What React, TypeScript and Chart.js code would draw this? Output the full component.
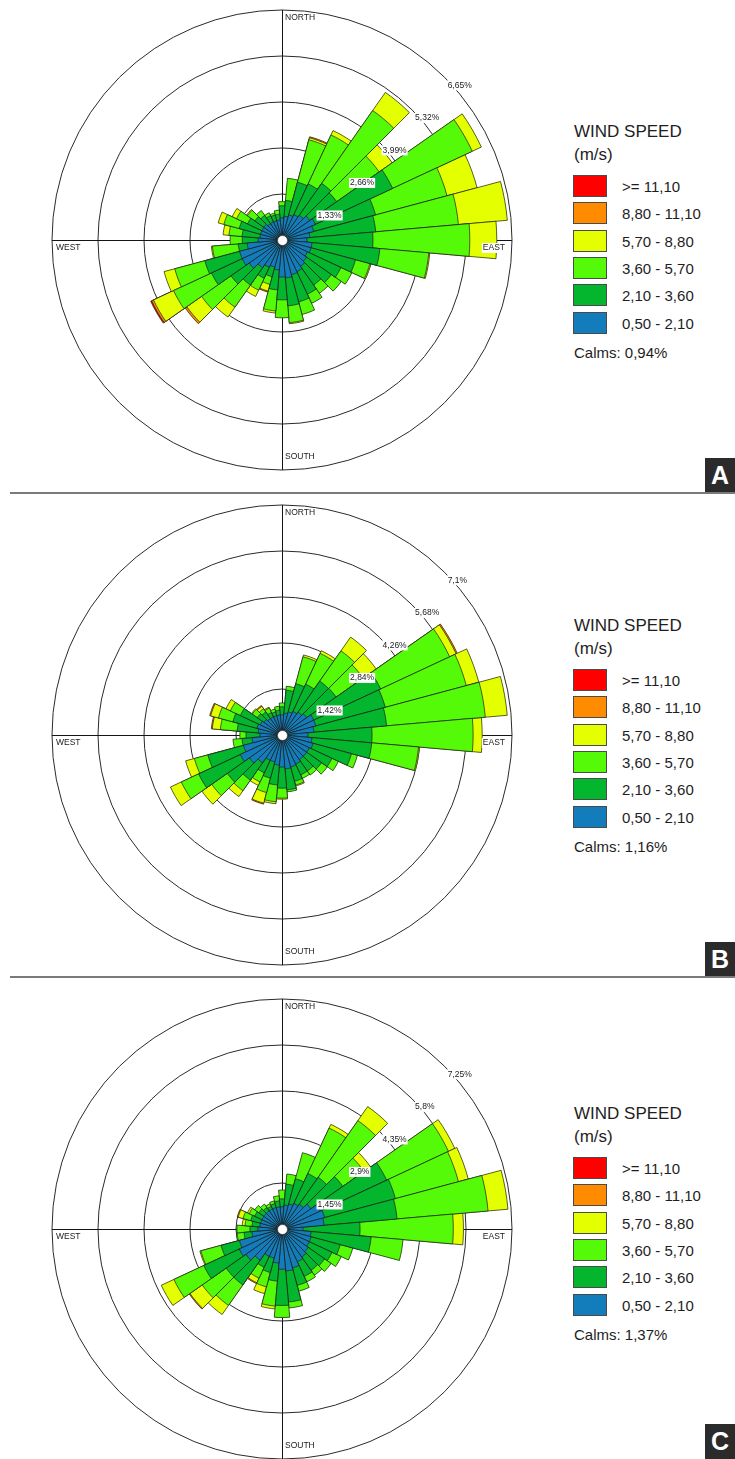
import React, { useEffect, useRef } from 'react';
import { Chart, registerables } from 'chart.js';

Chart.register(...registerables);

// ---------- categories ----------
const DIRECTIONS = [0, 10, 20, 30, 40, 50, 60, 70, 80, 90, 100, 110, 120, 130, 140, 150, 160, 170,
  180, 190, 200, 210, 220, 230, 240, 250, 260, 270, 280, 290, 300, 310, 320, 330, 340, 350];

// speed classes, low -> high
const SPEED_CLASSES = ['0,50 - 2,10', '2,10 - 3,60', '3,60 - 5,70', '5,70 - 8,80', '8,80 - 11,10', '>= 11,10'];
const CLASS_COLORS = ['#137dbb', '#04b52e', '#55fa08', '#e3ff00', '#ff8c00', '#ff0000'];

// ---------- Rose A (frequency %, per direction) ----------
const A_050_210 = [0.64,0.69,0.75,0.81,0.87,0.98,1.07,0.95,0.81,0.72,0.87,0.87,0.81,0.87,0.93,1.01,1.04,1.10,1.07,0.87,0.81,0.87,0.98,1.16,1.27,1.27,1.01,0.69,0.64,0.64,0.64,0.64,0.58,0.58,0.58,0.58];
const A_210_360 = [0.35,0.46,0.98,0.98,1.13,0.95,2.46,1.85,1.91,1.91,1.97,1.33,1.07,0.87,0.66,0.72,0.81,0.81,0.66,0.58,0.29,0.35,0.61,0.64,0.98,1.04,0.26,0.46,0.52,0.64,0.46,0.32,0.29,0.20,0.17,0.17];
const A_360_570 = [0.12,0.64,1.27,1.56,2.57,1.50,2.54,2.14,2.40,2.80,1.42,0.43,0.35,0.35,0.29,0.29,0.38,0.49,0.52,0.61,0.23,0.38,0.78,1.04,1.21,0.90,0.75,0.35,0.38,0.46,0.35,0.26,0.17,0.09,0.06,0.12];
const A_570_880 = [0,0,0.06,0.14,0.64,0.46,0.29,0.90,1.42,0.78,0.03,0.03,0,0,0,0,0,0.03,0,0.06,0.20,0.20,0.35,0.52,0.64,0.32,0.03,0,0.17,0.17,0.14,0.03,0,0,0,0];
const A_880_1110 = [0,0,0.03,0,0,0,0,0,0,0,0,0,0,0,0,0,0,0,0,0,0.03,0,0,0.06,0.06,0,0,0,0,0,0,0,0,0,0,0];
const A_1110 = [0,0,0,0,0,0,0,0,0,0,0,0,0,0,0,0,0,0,0,0,0,0,0,0,0.03,0,0,0,0,0,0,0,0,0,0,0];
const RINGS_A = [1.33, 2.66, 3.99, 5.32, 6.65];
const RING_LABELS_A = ['1,33%', '2,66%', '3,99%', '5,32%', '6,65%'];
const CALMS_A = 'Calms: 0,94%';

// ---------- Rose B ----------
const B_050_210 = [0.62,0.68,0.74,0.80,0.86,0.93,1.08,1.08,0.99,0.80,0.93,0.99,0.93,0.93,0.93,0.99,1.02,1.05,0.99,0.93,0.86,0.86,1.05,1.23,1.42,1.23,0.93,0.68,0.74,0.80,0.74,0.68,0.62,0.62,0.62,0.62];
const B_210_360 = [0.25,0.71,0.90,0.93,1.17,1.11,2.28,2.22,2.25,1.98,1.85,1.23,0.77,0.56,0.43,0.37,0.46,0.65,0.65,0.62,0.52,0.43,0.65,0.83,1.42,1.14,0.31,0.43,0.65,0.77,0.68,0.25,0.25,0.15,0.12,0.15];
const B_360_570 = [0.12,0.12,0.86,1.05,1.14,1.02,2.35,2.59,3.06,3.12,1.45,0.19,0.22,0.22,0.15,0.12,0.12,0.06,0.31,0.52,0.46,0.31,0.40,0.59,0.59,0.43,0.28,0.19,0.52,0.46,0.34,0.19,0.12,0.15,0.09,0.12];
const B_570_880 = [0,0,0.06,0.09,0.52,0.49,0.22,0.40,0.68,0.28,0.03,0,0,0,0,0,0.03,0,0.03,0.06,0.34,0.12,0.22,0.37,0.37,0.28,0,0,0.25,0.25,0.15,0.03,0.09,0.03,0,0];
const B_880_1110 = [0,0,0,0,0,0,0.04,0,0,0,0,0,0,0,0,0,0,0,0,0,0.03,0,0,0,0,0,0,0,0.03,0.03,0,0,0.03,0,0,0];
const B_1110 = [0,0,0,0,0,0,0,0,0,0,0,0,0,0,0,0,0,0,0,0,0,0,0,0,0,0,0,0,0,0,0,0,0,0,0,0];
const RINGS_B = [1.42, 2.84, 4.26, 5.68, 7.1];
const RING_LABELS_B = ['1,42%', '2,84%', '4,26%', '5,68%', '7,1%'];
const CALMS_B = 'Calms: 1,16%';

// ---------- Rose C ----------
const C_050_210 = [0.70,0.76,0.82,0.89,0.95,1.11,1.33,1.39,1.33,0.66,0.92,0.95,0.95,1.01,1.08,1.14,1.27,1.33,1.27,1.08,0.95,0.95,1.20,1.39,1.49,1.39,0.95,0.76,0.70,0.70,0.70,0.70,0.70,0.70,0.70,0.70];
const C_210_360 = [0.25,0.66,0.82,1.04,1.04,1.23,2.31,2.31,2.31,1.80,1.90,0.95,0.79,0.63,0.51,0.51,0.57,0.98,1.14,0.57,0.47,0.38,0.95,0.76,1.23,0.60,0.25,0.25,0.25,0.32,0.25,0.19,0.13,0.09,0.13,0.19];
const C_360_570 = [0.28,0.32,0.85,1.58,2.18,0.82,2.15,2.06,2.88,2.94,1.01,0.41,0.32,0.25,0.19,0.19,0.19,0.19,0.38,0.79,0.47,0.38,0.79,0.92,1.04,0.66,0.22,0.41,0.22,0.25,0.19,0.16,0.13,0.09,0.09,0.16];
const C_570_880 = [0,0,0,0.13,0.54,0.25,0.22,0.32,0.63,0.32,0,0,0,0,0,0,0,0,0,0.09,0.22,0.16,0.35,0.47,0.44,0.03,0,0,0.09,0.16,0.06,0,0,0,0,0];
const C_880_1110 = [0,0,0,0,0,0,0,0,0,0,0,0,0,0,0,0,0,0,0,0,0,0.03,0,0.03,0,0,0,0,0,0.03,0,0,0,0,0,0];
const C_1110 = [0,0,0,0,0,0,0,0,0,0,0,0,0,0,0,0,0,0,0,0,0,0,0,0,0,0,0,0,0,0,0,0,0,0,0,0];
const RINGS_C = [1.45, 2.9, 4.35, 5.8, 7.25];
const RING_LABELS_C = ['1,45%', '2,9%', '4,35%', '5,8%', '7,25%'];
const CALMS_C = 'Calms: 1,37%';

const COMPASS = ['NORTH', 'EAST', 'SOUTH', 'WEST'];
const LEGEND_TITLE = ['WIND SPEED', '(m/s)'];

const FONT = '"Liberation Sans", Arial, Helvetica, sans-serif';

type RoseProps = { bands: number[][]; rings: number[]; ringLabels: string[]; cx: number; cy: number };

function Rose({ bands, rings, ringLabels, cx, cy }: RoseProps) {
  const ref = useRef<HTMLCanvasElement>(null);
  useEffect(() => {
    const canvas = ref.current as HTMLCanvasElement;
    const cumulative: number[][] = [];
    bands.forEach((band, k) => {
      cumulative.push(band.map((v, i) => v + (k > 0 ? cumulative[k - 1][i] : 0)));
    });
    const maxV = rings[rings.length - 1];

    const overlay = {
      id: 'roseOverlay',
      beforeDatasetsDraw(chart: any) {
        const s = chart.scales.r;
        const ctx = chart.ctx;
        const x = s.xCenter, y = s.yCenter, R = s.drawingArea;
        ctx.save();
        ctx.strokeStyle = '#141414';
        ctx.lineWidth = 1;
        ctx.beginPath();
        ctx.moveTo(x + 0.5, y - R);
        ctx.lineTo(x + 0.5, y + R);
        ctx.moveTo(x - R, y + 0.5);
        ctx.lineTo(x + R, y + 0.5);
        ctx.stroke();
        ctx.restore();
      },
      afterDatasetsDraw(chart: any) {
        const s = chart.scales.r;
        const ctx = chart.ctx;
        const x = s.xCenter, y = s.yCenter, R = s.drawingArea;
        ctx.save();
        // calm hole
        ctx.beginPath();
        ctx.arc(x + 0.5, y + 0.5, 5, 0, Math.PI * 2);
        ctx.fillStyle = '#ffffff';
        ctx.fill();
        ctx.lineWidth = 0.7;
        ctx.strokeStyle = '#333';
        ctx.stroke();

        ctx.font = `8.5px ${FONT}`;
        ctx.textBaseline = 'middle';
        const label = (t: string, lx: number, ly: number, align: 'left' | 'right') => {
          const w = ctx.measureText(t).width;
          const left = align === 'left' ? lx : lx - w;
          ctx.fillStyle = '#ffffff';
          ctx.fillRect(left - 1, ly - 5, w + 2, 10);
          ctx.fillStyle = '#1a1a1a';
          ctx.textAlign = 'left';
          ctx.fillText(t, left, ly);
        };
        // compass labels
        label(COMPASS[0], x + 3, y - R + 8, 'left');
        label(COMPASS[1], x + R - 7, y + 8, 'right');
        label(COMPASS[2], x + 3, y + R - 13, 'left');
        label(COMPASS[3], x - R + 4, y + 8, 'left');
        // ring labels along 45 deg
        rings.forEach((v, i) => {
          const r = s.getDistanceFromCenterForValue(v);
          const px = x + r * Math.SQRT1_2;
          const py = y - r * Math.SQRT1_2;
          label(ringLabels[i], px + 3, py + 8, 'left');
        });
        ctx.restore();
      },
    };

    const chart = new Chart(canvas, {
      type: 'polarArea',
      data: {
        labels: DIRECTIONS.map((d) => `${d}°`),
        datasets: cumulative.map((data, k) => ({
          label: SPEED_CLASSES[k],
          data,
          backgroundColor: (c: any) => {
            const i = c.dataIndex;
            let j = k;
            while (j > 0 && bands[j][i] === 0) j--;
            return CLASS_COLORS[j];
          },
          borderColor: '#1c1c1c',
          borderWidth: (c: any) => (bands[k][c.dataIndex] > 0 ? 0.7 : 0),
          borderAlign: 'center',
        })),
      } as any,
      options: {
        responsive: false,
        animation: false,
        events: [],
        layout: { padding: 6 },
        plugins: { legend: { display: false }, tooltip: { enabled: false } },
        scales: {
          r: {
            min: 0,
            max: maxV,
            startAngle: -5,
            ticks: { display: false },
            pointLabels: { display: false },
            angleLines: { display: false },
            grid: { circular: true, color: '#2a2a2a', lineWidth: 1 },
            afterBuildTicks: (sc: any) => {
              sc.ticks = [0, ...rings].map((v) => ({ value: v }));
            },
          },
        },
      } as any,
      plugins: [overlay],
    });
    const s = chart.scales.r as any;
    canvas.style.left = `${cx - s.xCenter}px`;
    canvas.style.top = `${cy - s.yCenter}px`;
    return () => chart.destroy();
  }, []);
  return <canvas ref={ref} width={472} height={472} style={{ position: 'absolute', display: 'block' }} />;
}

function Legend({ titleY, calms }: { titleY: number; calms: string }) {
  const legendOrder = SPEED_CLASSES.map((_, i) => SPEED_CLASSES.length - 1 - i);
  const base: React.CSSProperties = { position: 'absolute', whiteSpace: 'nowrap', color: '#1e1e1e', fontFamily: FONT };
  return (
    <>
      <div style={{ ...base, left: 574, top: titleY - 8, fontSize: 17, lineHeight: '17px' }}>{LEGEND_TITLE[0]}</div>
      <div style={{ ...base, left: 574, top: titleY + 15, fontSize: 17, lineHeight: '17px' }}>{LEGEND_TITLE[1]}</div>
      {legendOrder.map((ci, row) => {
        const top = titleY + 44 + row * 27.3;
        return (
          <React.Fragment key={ci}>
            <div style={{ position: 'absolute', left: 573, top, width: 32, height: 20, background: CLASS_COLORS[ci], border: '1px solid #4a4a4a' }} />
            <div style={{ ...base, left: 622, top: top + 4, fontSize: 15, lineHeight: '15px' }}>{SPEED_CLASSES[ci]}</div>
          </React.Fragment>
        );
      })}
      <div style={{ ...base, left: 574, top: titleY + 214, fontSize: 15, lineHeight: '15px' }}>{calms}</div>
    </>
  );
}

function Letter({ top, text }: { top: number; text: string }) {
  return (
    <div style={{ position: 'absolute', left: 705, top, width: 30, height: 35, background: '#2b2b2b', color: '#fff', fontFamily: FONT, fontWeight: 'bold', fontSize: 25, lineHeight: '35px', textAlign: 'center' }}>{text}</div>
  );
}

export default function App() {
  useEffect(() => {
    document.body.style.margin = '0';
  }, []);
  const panels = [
    { bands: [A_050_210, A_210_360, A_360_570, A_570_880, A_880_1110, A_1110], rings: RINGS_A, labels: RING_LABELS_A, calms: CALMS_A, cy: 240, titleY: 131, letter: 'A', letterTop: 458 },
    { bands: [B_050_210, B_210_360, B_360_570, B_570_880, B_880_1110, B_1110], rings: RINGS_B, labels: RING_LABELS_B, calms: CALMS_B, cy: 735, titleY: 625, letter: 'B', letterTop: 942 },
    { bands: [C_050_210, C_210_360, C_360_570, C_570_880, C_880_1110, C_1110], rings: RINGS_C, labels: RING_LABELS_C, calms: CALMS_C, cy: 1229, titleY: 1113, letter: 'C', letterTop: 1424 },
  ];
  return (
    <div style={{ position: 'absolute', left: 0, top: 0, width: 735, height: 1459, overflow: 'hidden', background: '#fff' }}>
      {panels.map((p) => (
        <React.Fragment key={p.letter}>
          <Rose bands={p.bands} rings={p.rings} ringLabels={p.labels} cx={282} cy={p.cy} />
          <Legend titleY={p.titleY} calms={p.calms} />
          <Letter top={p.letterTop} text={p.letter} />
        </React.Fragment>
      ))}
      <div style={{ position: 'absolute', left: 10, top: 492, width: 725, height: 2, background: '#7a7a7a' }} />
      <div style={{ position: 'absolute', left: 10, top: 976, width: 725, height: 2, background: '#7a7a7a' }} />
    </div>
  );
}
